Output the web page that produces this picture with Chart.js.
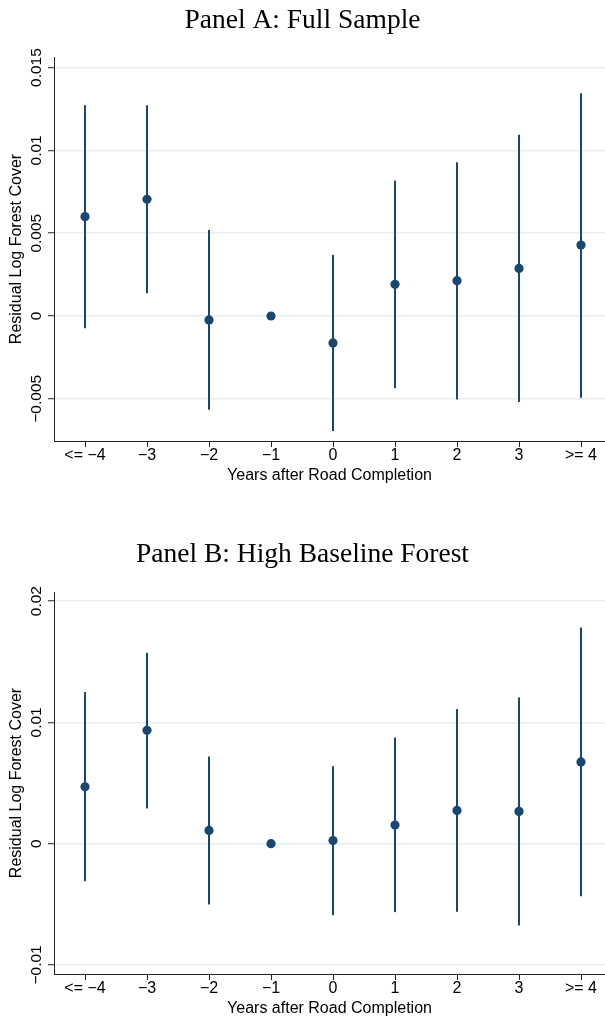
<!DOCTYPE html>
<html>
<head>
<meta charset="utf-8">
<script src="https://cdn.jsdelivr.net/npm/chart.js@4.4.1/dist/chart.umd.min.js"></script>
<style>
  html, body { margin: 0; padding: 0; background: #fff; overflow: hidden; }
  canvas { position: absolute; left: 0; }
</style>
</head>
<body>
<canvas id="chartA" width="605" height="484" style="top:0px"></canvas>
<canvas id="chartB" width="605" height="483" style="top:534px"></canvas>
<script>
// x categories (years relative to road completion)
const xLabels = ['<= \u22124', '\u22123', '\u22122', '\u22121', '0', '1', '2', '3', '>= 4'];

// Panel A: full sample
const estA = [0.0060, 0.00705, -0.00024, 0, -0.00163, 0.00191, 0.00213, 0.00287, 0.00428];
const loA = [-0.00072, 0.00139, -0.00564, null, -0.00693, -0.00434, -0.00502, -0.00518, -0.00492];
const hiA = [0.01271, 0.0127, 0.00518, null, 0.00367, 0.00816, 0.00926, 0.01093, 0.01343];
const yTicksA = [-0.005, 0, 0.005, 0.01, 0.015];
const yTickLabelsA = ['\u22120.005', '0', '0.005', '0.01', '0.015'];

// Panel B: high baseline forest
const estB = [0.00469, 0.00934, 0.00109, 0, 0.00025, 0.00153, 0.00274, 0.00266, 0.00674];
const loB = [-0.00307, 0.00293, -0.00499, null, -0.00587, -0.00562, -0.00559, -0.00672, -0.00431];
const hiB = [0.01247, 0.01571, 0.00716, null, 0.00636, 0.00872, 0.01107, 0.01203, 0.01779];
const yTicksB = [-0.01, 0, 0.01, 0.02];
const yTickLabelsB = ['\u22120.01', '0', '0.01', '0.02'];

const navy = '#1a476f';
const sans = '"Liberation Sans", Arial, sans-serif';
Chart.defaults.font.family = sans;

// Stata-style y tick labels, rotated to read bottom-to-top
const yLabelPlugin = {
  id: 'yLabels',
  afterDraw(chart, args, opts) {
    const ys = chart.scales.y;
    const ctx = chart.ctx;
    ctx.save();
    ctx.font = '15.5px ' + sans;
    ctx.fillStyle = '#000';
    ctx.textAlign = 'center';
    ctx.textBaseline = 'alphabetic';
    opts.values.forEach((v, i) => {
      const py = ys.getPixelForValue(v);
      ctx.save();
      ctx.translate(41, py);
      ctx.rotate(-Math.PI / 2);
      ctx.fillText(opts.labels[i], 0, 0);
      ctx.restore();
    });
    ctx.restore();
  }
};

function makeChart(id, title, est, lo, hi, yMin, yMax, yTicks, yTickLabels, titlePad) {
  const ciData = [];
  lo.forEach((v, i) => {
    if (v !== null) ciData.push({ x: i, y: [v, hi[i]] });
  });
  const ptData = est.map((v, i) => ({ x: i, y: v }));

  new Chart(document.getElementById(id), {
    type: 'scatter',
    data: {
      datasets: [
        {
          type: 'scatter',
          data: ptData,
          order: 0,
          pointRadius: 4.6,
          pointBackgroundColor: navy,
          pointBorderWidth: 0,
          showLine: false
        },
        {
          type: 'bar',
          data: ciData,
          order: 1,
          backgroundColor: navy,
          borderWidth: 0,
          barThickness: 1.35,
          grouped: false
        }
      ]
    },
    options: {
      responsive: false,
      animation: false,
      events: [],
      layout: { padding: 0, autoPadding: false },
      plugins: {
        legend: { display: false },
        tooltip: { enabled: false },
        title: {
          display: true,
          text: title,
          color: '#000',
          font: { family: '"Liberation Serif", "Times New Roman", serif', size: 27.5, weight: 'normal', lineHeight: 1.2 },
          padding: titlePad
        },
        yLabels: { values: yTicks, labels: yTickLabels }
      },
      scales: {
        x: {
          type: 'linear',
          min: -0.5,
          max: 8.387,
          offset: false,
          afterBuildTicks: s => { s.ticks = xLabels.map((_, i) => ({ value: i })); },
          afterFit: s => { s.paddingLeft = 0; s.paddingRight = 0; },
          ticks: {
            callback: v => xLabels[v],
            color: '#000',
            font: { size: 16, lineHeight: 1 },
            padding: 1,
            maxRotation: 0,
            autoSkip: false
          },
          grid: { drawOnChartArea: false, offset: false, tickLength: 6, tickColor: '#222', tickWidth: 1 },
          border: { color: '#222', width: 1 },
          title: {
            display: true,
            text: 'Years after Road Completion',
            color: '#000',
            font: { size: 16, lineHeight: 1 },
            padding: { top: 3, bottom: 0 }
          }
        },
        y: {
          type: 'linear',
          min: yMin,
          max: yMax,
          afterBuildTicks: s => { s.ticks = yTicks.map(v => ({ value: v })); },
          afterFit: s => { s.width = 54; },
          ticks: { color: 'rgba(0,0,0,0)', font: { size: 15.5 } },
          grid: { color: '#e6eef0', lineWidth: 1.5, tickLength: 6, tickColor: '#222', tickWidth: 1 },
          border: { color: '#222', width: 1 },
          title: {
            display: true,
            text: 'Residual Log Forest Cover',
            color: '#000',
            font: { size: 16, lineHeight: 1 },
            padding: { top: 9, bottom: 0 }
          }
        }
      }
    },
    plugins: [yLabelPlugin]
  });
}

makeChart('chartA', 'Panel A: Full Sample', estA, loA, hiA, -0.00755, 0.01564,
  yTicksA, yTickLabelsA, { top: 4.6, bottom: 19.4 });
makeChart('chartB', 'Panel B: High Baseline Forest', estB, loB, hiB, -0.01075, 0.02075,
  yTicksB, yTickLabelsB, { top: 4.6, bottom: 20.4 });
</script>
</body>
</html>
